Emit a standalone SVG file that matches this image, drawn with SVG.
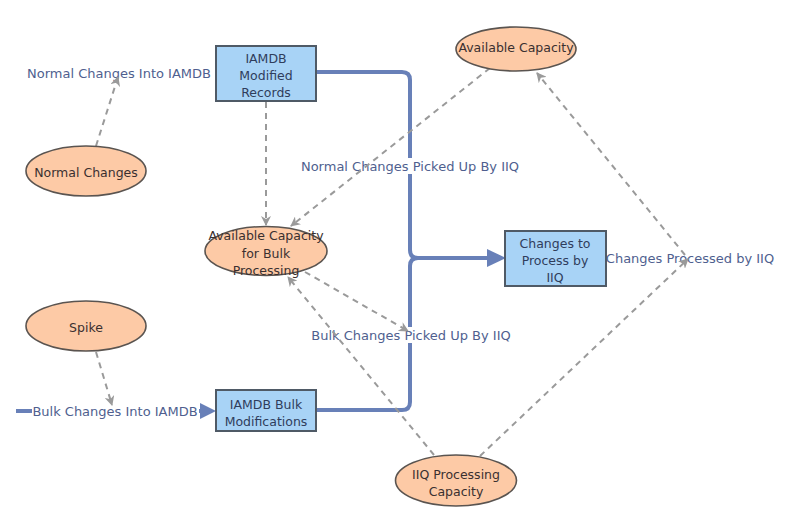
<svg xmlns="http://www.w3.org/2000/svg" width="800" height="517" viewBox="0 0 800 517">
<defs>
<style>
text{font-family:"DejaVu Sans","Liberation Sans",sans-serif;font-size:12.5px;text-anchor:middle;dominant-baseline:central}
.lbl{fill:#4f5f8f;font-size:13px}
.ntx{fill:#2f3d5c}
.etx{fill:#3a3030}
.stock{fill:#a8d3f6;stroke:#4f5a66;stroke-width:2}
.aux{fill:#fdcaa6;stroke:#5a5450;stroke-width:1.6}
.flow{fill:none;stroke:#6880b8;stroke-width:4}
.link{fill:none;stroke:#9a9a9a;stroke-width:2;stroke-dasharray:6,5}
.bg{fill:#ffffff}
</style>
<marker id="ah" viewBox="0 0 10 10" refX="9" refY="5" markerWidth="5" markerHeight="5" orient="auto" markerUnits="strokeWidth">
<path d="M0,0 L10,5 L0,10 L3,5 z" fill="#9a9a9a"/>
</marker>
</defs>
<rect width="800" height="517" fill="#ffffff"/>
<g id="flows">
<path class="flow" d="M316,72 H402 Q410,72 410,80 V250 Q410,258 418,258 H492"/>
<path class="flow" d="M316,410 H402 Q410,410 410,402 V266 Q410,258 418,258"/>
<polygon points="487,249 506,258 487,267" fill="#6880b8"/>
<path class="flow" d="M16,411 H202"/>
<polygon points="200,403 216,411 200,419" fill="#6880b8"/>
</g>
<g id="label-normal-into">
<rect class="bg" x="26" y="65" width="187" height="16"/>
<text class="lbl" x="119" y="73">Normal Changes Into IAMDB</text>
</g>
<g id="label-bulk-into">
<rect class="bg" x="32" y="403" width="167" height="16"/>
<text class="lbl" x="115" y="411">Bulk Changes Into IAMDB</text>
</g>
<g id="label-normal-picked">
<rect class="bg" x="299" y="158" width="222" height="16"/>
<text class="lbl" x="410" y="166">Normal Changes Picked Up By IIQ</text>
</g>
<g id="label-bulk-picked">
<rect class="bg" x="310" y="327" width="202" height="16"/>
<text class="lbl" x="411" y="335">Bulk Changes Picked Up By IIQ</text>
</g>
<g id="label-processed">
<rect class="bg" x="604" y="250" width="173" height="16"/>
<text class="lbl" x="690" y="258">Changes Processed by IIQ</text>
</g>
<g id="connectors">
<path class="link" d="M96,146 L118,77" marker-end="url(#ah)"/>
<path class="link" d="M266,102 L266,225" marker-end="url(#ah)"/>
<path class="link" d="M490,68 L291,226" marker-end="url(#ah)"/>
<path class="link" d="M96,352 L112,405" marker-end="url(#ah)"/>
<path class="link" d="M305,272 L408,331" marker-end="url(#ah)"/>
<path class="link" d="M434,455 L288,277" marker-end="url(#ah)"/>
<path class="link" d="M480,456 L688,259" marker-end="url(#ah)"/>
<path class="link" d="M685,255 L537,73" marker-end="url(#ah)"/>
</g>
<g id="iamdb-modified-records">
<rect class="stock" x="216" y="46" width="100" height="55"/>
<text class="ntx" x="266" y="58">IAMDB</text>
<text class="ntx" x="266" y="75">Modified</text>
<text class="ntx" x="266" y="92">Records</text>
</g>
<g id="changes-to-process">
<rect class="stock" x="505" y="231" width="101" height="55"/>
<text class="ntx" x="555" y="243">Changes to</text>
<text class="ntx" x="555" y="260">Process by</text>
<text class="ntx" x="555" y="277">IIQ</text>
</g>
<g id="iamdb-bulk-modifications">
<rect class="stock" x="216" y="390" width="100" height="41"/>
<text class="ntx" x="266" y="404">IAMDB Bulk</text>
<text class="ntx" x="266" y="421">Modifications</text>
</g>
<g id="normal-changes">
<ellipse class="aux" cx="86" cy="171" rx="60" ry="25"/>
<text class="etx" x="86" y="172">Normal Changes</text>
</g>
<g id="spike">
<ellipse class="aux" cx="86" cy="326" rx="60" ry="25"/>
<text class="etx" x="86" y="327">Spike</text>
</g>
<g id="available-capacity">
<ellipse class="aux" cx="516" cy="49" rx="60" ry="22"/>
<text class="etx" x="516" y="47">Available Capacity</text>
</g>
<g id="available-capacity-bulk">
<ellipse class="aux" cx="266" cy="251" rx="61" ry="24.5"/>
<text class="etx" x="266" y="235">Available Capacity</text>
<text class="etx" x="266" y="253">for Bulk</text>
<text class="etx" x="266" y="270">Processing</text>
</g>
<g id="iiq-processing-capacity">
<ellipse class="aux" cx="456" cy="480.5" rx="60.5" ry="25.5"/>
<text class="etx" x="456" y="474">IIQ Processing</text>
<text class="etx" x="456" y="491">Capacity</text>
</g>
</svg>
